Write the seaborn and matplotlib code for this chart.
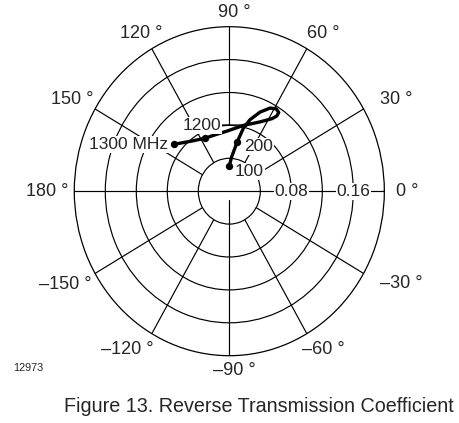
import numpy as np
import pandas as pd
import matplotlib
matplotlib.use("Agg")
import matplotlib.pyplot as plt
import seaborn as sns

# ---- data ----
trace_mag = [0.031, 0.042, 0.061, 0.079, 0.091, 0.104, 0.114, 0.117, 0.115, 0.110,
             0.104, 0.093, 0.082, 0.073, 0.071, 0.0716, 0.079, 0.0914]
trace_ang = [90, 85.8, 80.3, 76.6, 72.9, 67.6, 62.5, 58.8, 56.3, 56.2,
             58.0, 64.9, 77.2, 92.7, 104, 116, 130, 141.4]

mark_freq = ["100", "200", "1200", "1300 MHz"]
mark_mag = [0.031, 0.061, 0.0716, 0.0914]
mark_ang = [90, 80.3, 116, 141.4]

ring_values = [0.04, 0.08, 0.12, 0.16]
ring_labels = ["0.08", "0.16"]
ring_label_values = [0.08, 0.16]
r_max = 0.20

spoke_angles = [30, 60, 120, 150, 210, 240, 300, 330]
angle_ticks = [0, 30, 60, 90, 120, 150, 180, -150, -120, -90, -60, -30]
angle_labels = ["0 °", "30 °", "60 °", "90 °", "120 °", "150 °", "180 °",
                "\u2013150 °", "\u2013120 °", "\u201390 °", "\u201360 °", "\u201330 °"]

sns.set_style("white")
plt.rcParams["font.family"] = ["Liberation Sans", "DejaVu Sans"]

fig = plt.figure(figsize=(4.6, 4.23), dpi=100)
ax = fig.add_axes([0.1615, 0.1591, 0.674, 0.7778], projection="polar")
ax.set_aspect("auto")
ax.set_ylim(0, r_max)
ax.set_xticks([])
ax.set_yticks(ring_values)
ax.set_yticklabels([])
ax.yaxis.grid(True, color="black", lw=0.85)
ax.xaxis.grid(False)
ax.spines["polar"].set_color("black")
ax.spines["polar"].set_linewidth(0.9)
ax.set_facecolor("white")

gl = dict(color="black", lw=0.85, zorder=1)
for a in spoke_angles:
    ax.plot([np.deg2rad(a)] * 2, [0.04, r_max], **gl)
ax.plot([0, 0], [0, r_max], **gl)
ax.plot([np.pi, np.pi], [0, r_max], **gl)
ax.plot([np.pi / 2] * 2, [0.0805, r_max], **gl)
ax.plot([-np.pi / 2] * 2, [0.011, r_max], **gl)

# trace
df = pd.DataFrame({"theta": np.deg2rad(trace_ang), "mag": trace_mag})
sns.lineplot(data=df, x="theta", y="mag", sort=False, estimator=None, ax=ax,
             color="black", lw=2.4, zorder=4)
for line in ax.lines[-1:]:
    line.set_solid_joinstyle("round")
    line.set_solid_capstyle("round")
dm = pd.DataFrame({"theta": np.deg2rad(mark_ang), "mag": mark_mag})
sns.scatterplot(data=dm, x="theta", y="mag", ax=ax, color="black", s=28,
                edgecolor="black", linewidth=0, zorder=5)
ax.set_xlabel("")
ax.set_ylabel("")

# point labels
bb = dict(boxstyle="square,pad=0.05", fc="white", ec="none")
fs = 12.5
offsets = [(20, -6, "center"), (21, -5, "center"), (-3, 13, "center"), (-6, 0, "right")]
for lab, m, a, (ox, oy, ha) in zip(mark_freq, mark_mag, mark_ang, offsets):
    ax.annotate(lab, xy=(np.deg2rad(a), m), xytext=(ox, oy), textcoords="offset pixels",
                ha=ha, va="center", fontsize=fs, bbox=bb, zorder=6)
# leader for the 1200 label
ax.annotate("", xy=(np.deg2rad(74.2), 0.0837), xytext=(-28, 0),
            textcoords="offset pixels",
            arrowprops=dict(arrowstyle="-", lw=0.85, color="black",
                            shrinkA=0, shrinkB=0), zorder=3)

# ring labels
for lab, v in zip(ring_labels, ring_label_values):
    ax.text(0, v, lab, ha="center", va="center", fontsize=fs, bbox=bb, zorder=6)

# angle labels (placement per label: offset in pixels from the outer ring, alignment)
placement = {
    0: (11.7, 0, "left"), 30: (16, 9.7, "left"), 60: (0.2, 15.4, "left"),
    90: (4.7, 14, "center"), 120: (10.2, 15.4, "right"), 150: (-1.8, 9.7, "right"),
    180: (-6, 0, "right"), -150: (-3.4, -11.5, "right"), -120: (1.5, -16.3, "right"),
    -90: (5, -14.3, "center"), -60: (-5, -16.3, "left"), -30: (16, -10.5, "left"),
}
for a, lab in zip(angle_ticks, angle_labels):
    t = np.deg2rad(a)
    ox, oy, ha = placement[a]
    ax.annotate(lab, xy=(t, r_max), xytext=(ox, oy),
                textcoords="offset pixels", ha=ha, va="center", fontsize=13,
                annotation_clip=False)

fig.text(12.7 / 460, 1 - 368 / 423, "12973", fontsize=7.8, ha="left", va="center")
fig.text(259 / 460, 1 - 406 / 423, "Figure 13. Reverse Transmission Coefficient",
         fontsize=14.2, ha="center", va="center")

fig.savefig("out.png", dpi=100, facecolor="white")
